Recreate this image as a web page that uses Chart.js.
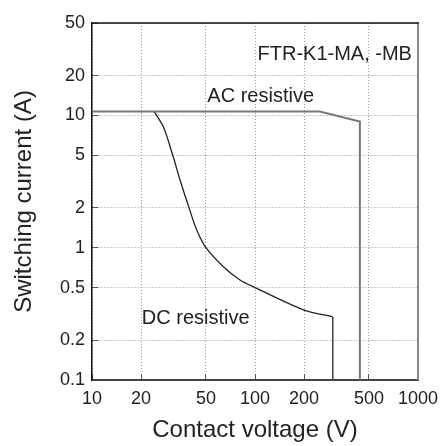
<!DOCTYPE html>
<html>
<head>
<meta charset="utf-8">
<script src="https://cdn.jsdelivr.net/npm/chart.js@4"></script>
<style>
  body { margin: 0; background: #fff; }
  #wrap { width: 443px; height: 446px; }
</style>
</head>
<body>
<div id="wrap"><canvas id="chart" width="443" height="446"></canvas></div>
<script>
// tick values
const xTicks = [10, 20, 50, 100, 200, 500, 1000];
const yTicks = [0.1, 0.2, 0.5, 1, 2, 5, 10, 20, 50];

// AC resistive limit
const acVoltage = [10, 250, 440, 440];
const acCurrent = [10.7, 10.7, 9, 0.1];

// DC resistive limit (curve + cut-off at 300 V)
const dcVoltage = [24.1, 27.4, 31.3, 34.7, 39.4, 43.9, 50, 64, 80.9, 100, 200, 300];
const dcCurrent = [10.7, 8.2, 5, 3.25, 2, 1.36, 1, 0.718, 0.57, 0.5, 0.338, 0.3];
const dcCutVoltage = [300, 300];
const dcCutCurrent = [0.3, 0.1];

// in-plot text, anchored in data coords
const noteText  = ['FTR-K1-MA, -MB', 'AC resistive', 'DC resistive'];
const noteX     = [918, 51, 20.2];
const noteY     = [26.2, 12.7, 0.265];
const noteAlign = ['right', 'left', 'left'];

const FONT = '"Liberation Sans", Arial, Helvetica, sans-serif';
const pts = (xs, ys) => xs.map((x, i) => ({ x, y: ys[i] }));

const frame = {
  id: 'frame',
  afterDatasetsDraw(chart) {
    const { ctx, chartArea: a } = chart;
    ctx.save();
    ctx.strokeStyle = '#888';
    ctx.lineWidth = 2;
    ctx.beginPath(); ctx.moveTo(a.right, a.top); ctx.lineTo(a.right, a.bottom); ctx.stroke();
    ctx.strokeStyle = '#111';
    ctx.lineWidth = 1.5;
    ctx.beginPath(); ctx.moveTo(a.left, a.top); ctx.lineTo(a.right + 1, a.top); ctx.stroke();

    const xs = chart.scales.x, ys = chart.scales.y;
    ctx.fillStyle = '#222';
    ctx.font = '20px ' + FONT;
    ctx.textBaseline = 'alphabetic';
    noteText.forEach((t, i) => {
      ctx.textAlign = noteAlign[i];
      ctx.fillText(t, xs.getPixelForValue(noteX[i]), ys.getPixelForValue(noteY[i]));
    });
    ctx.restore();
  }
};

const gridOpts = {
  color: '#999',
  lineWidth: 1,
  tickLength: -6,
  tickColor: '#555',
  tickWidth: 1
};

// keep the plot box fixed: no extra room for edge labels
const noEdgePad = s => { s.paddingLeft = 0; s.paddingRight = 0; s.paddingTop = 0; s.paddingBottom = 0; };

new Chart(document.getElementById('chart'), {
  type: 'line',
  data: {
    datasets: [
      { data: pts(acVoltage, acCurrent), borderColor: '#777', borderWidth: 2, tension: 0, pointRadius: 0 },
      { data: pts(dcVoltage, dcCurrent), borderColor: '#222', borderWidth: 1.3, tension: 0.3, pointRadius: 0 },
      { data: pts(dcCutVoltage, dcCutCurrent), borderColor: '#444', borderWidth: 1.5, tension: 0, pointRadius: 0 }
    ]
  },
  options: {
    responsive: false,
    animation: false,
    layout: { padding: { top: 23, right: 25, left: 0, bottom: 0 } },
    plugins: { legend: { display: false }, tooltip: { enabled: false } },
    scales: {
      x: {
        type: 'logarithmic',
        min: 10, max: 1000,
        afterBuildTicks: s => { s.ticks = xTicks.map(v => ({ value: v })); },
        afterFit: s => { s.height = 66; noEdgePad(s); },
        grid: gridOpts,
        border: { color: '#444', width: 2, dash: [1, 2] },
        ticks: { color: '#222', padding: 14, font: { size: 18, family: FONT }, callback: v => String(v), autoSkip: false, maxRotation: 0 },
        title: { display: true, text: 'Contact voltage (V)', color: '#222', font: { size: 24, family: FONT }, padding: { top: 0, bottom: 1 } }
      },
      y: {
        type: 'logarithmic',
        min: 0.1, max: 50,
        afterBuildTicks: s => { s.ticks = yTicks.map(v => ({ value: v })); },
        afterFit: s => { s.width = 92; noEdgePad(s); },
        grid: gridOpts,
        border: { color: '#111', width: 1.5, dash: [1, 2] },
        ticks: { color: '#222', padding: 13, font: { size: 18, family: FONT }, callback: v => String(v), autoSkip: false },
        title: { display: true, text: 'Switching current (A)', color: '#222', font: { size: 24, family: FONT }, padding: { top: 10, bottom: 0 } }
      }
    }
  },
  plugins: [frame]
});
</script>
</body>
</html>
